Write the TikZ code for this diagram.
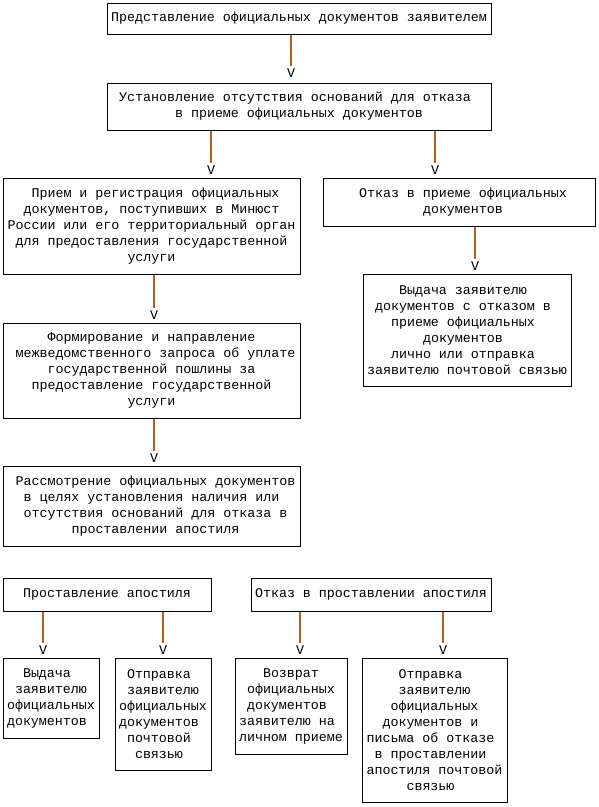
\documentclass[tikz,border=0pt]{standalone}
\usepackage{fontspec}
\setmainfont{Liberation Mono}
\newcommand\tsp{\hphantom{x}}
\definecolor{conncol}{RGB}{176,98,34}
\tikzset{
  box/.style={draw=black, line width=1pt, inner sep=0pt, align=center,
    font=\fontsize{13.33}{16}\selectfont},
  vmark/.style={inner sep=0pt, anchor=south, font=\fontsize{13.33}{16}\selectfont},
  conn/.style={draw=conncol, line width=1.1pt}
}
\begin{document}
\begin{tikzpicture}[x=1pt,y=-1pt]
\useasboundingbox (0,0) rectangle (599,807);
% boxes
\node[box, minimum width=384pt, minimum height=31pt] (b1) at (299,18.5)
  {Представление официальных документов заявителем};
\node[box, minimum width=384pt, minimum height=47pt] (b2) at (299,106.5)
  {Установление отсутствия оснований для отказа\tsp\\в приеме официальных документов};
\node[box, minimum width=297pt, minimum height=96pt] (b3) at (151.5,226)
  {\tsp Прием и регистрация официальных\\документов, поступивших в Минюст\\России или его территориальный орган\\для предоставления государственной\\услуги};
\node[box, minimum width=272pt, minimum height=48pt] (b4) at (459,202)
  {\tsp Отказ в приеме официальных\\\tsp документов};
\node[box, minimum width=208pt, minimum height=112pt] (b5) at (467,330)
  {Выдача заявителю\tsp\\документов с отказом в\tsp\\приеме официальных\tsp\\документов\tsp\\лично или отправка\tsp\\заявителю почтовой связью};
\node[box, minimum width=297pt, minimum height=95pt] (b6) at (151.5,370.5)
  {Формирование и направление\\\tsp межведомственного запроса об уплате\\государственной пошлины за\\предоставление государственной\\услуги};
\node[box, minimum width=297pt, minimum height=80pt] (b7) at (151.5,506)
  {\tsp Рассмотрение официальных документов\\в целях установления наличия или\\\tsp отсутствия оснований для отказа в\\\tsp проставлении апостиля};
\node[box, minimum width=208pt, minimum height=33pt] (b8) at (107,594.5)
  {Проставление апостиля};
\node[box, minimum width=240pt, minimum height=33pt] (b9) at (371,594.5)
  {Отказ в проставлении апостиля};
\node[box, minimum width=96pt, minimum height=80pt] (b10) at (51,698)
  {Выдача\tsp\\заявителю\\официальных\\документов\tsp};
\node[box, minimum width=96pt, minimum height=112pt] (b11) at (163,714)
  {Отправка\tsp\\заявителю\\официальных\\документов\tsp\\почтовой\tsp\\связью\tsp};
\node[box, minimum width=112pt, minimum height=96pt] (b12) at (291,706)
  {Возврат\\официальных\\документов\tsp\\заявителю на\tsp\\личном приеме};
\node[box, minimum width=145pt, minimum height=144pt] (b13) at (434.5,730)
  {Отправка\tsp\\заявителю\\официальных\\документов и\tsp\\письма об отказе\tsp\\в проставлении\tsp\\апостиля почтовой\\связью\tsp};
% arrow marks
\node[vmark] (v1) at (291,77.5) {V};
\node[vmark] (v2) at (211,174.5) {V};
\node[vmark] (v3) at (435,174.5) {V};
\node[vmark] (v4) at (475,270.5) {V};
\node[vmark] (v5) at (154,319.5) {V};
\node[vmark] (v6) at (154,462.5) {V};
\node[vmark] (v7) at (43,654.5) {V};
\node[vmark] (v8) at (163,654.5) {V};
\node[vmark] (v9) at (300,654.5) {V};
\node[vmark] (v10) at (443,654.5) {V};
% connectors
\draw[conn] (b1.south -| v1) -- ([yshift=2.5pt]v1.north);
\draw[conn] (b2.south -| v2) -- ([yshift=2.5pt]v2.north);
\draw[conn] (b2.south -| v3) -- ([yshift=2.5pt]v3.north);
\draw[conn] (b4.south -| v4) -- ([yshift=2.5pt]v4.north);
\draw[conn] (b3.south -| v5) -- ([yshift=2.5pt]v5.north);
\draw[conn] (b6.south -| v6) -- ([yshift=2.5pt]v6.north);
\draw[conn] (b8.south -| v7) -- ([yshift=2.5pt]v7.north);
\draw[conn] (b8.south -| v8) -- ([yshift=2.5pt]v8.north);
\draw[conn] (b9.south -| v9) -- ([yshift=2.5pt]v9.north);
\draw[conn] (b9.south -| v10) -- ([yshift=2.5pt]v10.north);
\end{tikzpicture}
\end{document}
